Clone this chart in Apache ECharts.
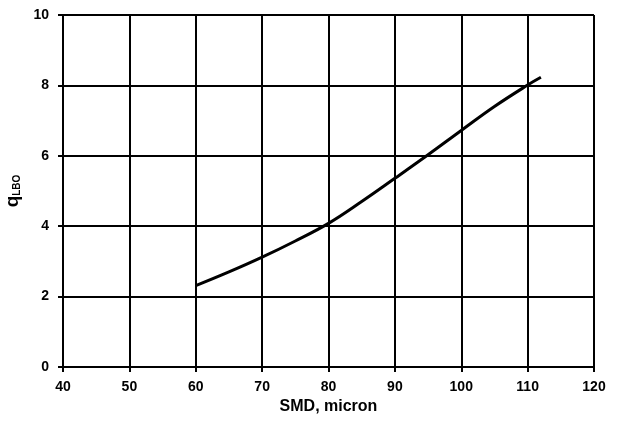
<!DOCTYPE html>
<html>
<head>
<meta charset="utf-8">
<script src="https://cdn.jsdelivr.net/npm/echarts@6/dist/echarts.min.js"></script>
<style>
  html, body { margin: 0; padding: 0; background: #fff; }
  #chart { width: 619px; height: 421px; }
</style>
</head>
<body>
<div id="chart"></div>
<script>
// SMD (micron) and q_LBO
var smd = [60, 65, 70, 75, 80, 85, 90, 95, 100, 105, 110, 112];
var qLbo = [2.31, 2.7, 3.12, 3.58, 4.08, 4.7, 5.36, 6.03, 6.72, 7.4, 8.01, 8.23];

var myChart = echarts.init(document.getElementById('chart'));

var font = 'Liberation Sans, Arial, sans-serif';

var option = {
    animation: false,
    backgroundColor: '#fff',
    grid: { left: 63, right: 25, top: 15, bottom: 54, containLabel: false, outerBoundsMode: 'none' },
    xAxis: {
        type: 'value',
        min: 40, max: 120, interval: 10,
        name: 'SMD, micron',
        nameLocation: 'middle',
        nameGap: 31,
        nameTextStyle: { color: '#000', fontWeight: 'bold', fontSize: 16, fontFamily: font },
        axisLine: { lineStyle: { color: '#000', width: 2 } },
        axisTick: { show: true, length: 5, lineStyle: { color: '#000', width: 2 } },
        axisLabel: { color: '#000', fontWeight: 'bold', fontSize: 14, fontFamily: font, margin: 13 },
        splitLine: { show: true, lineStyle: { color: '#000', width: 2 } }
    },
    yAxis: {
        type: 'value',
        min: 0, max: 10, interval: 2,
        name: '{q|q}{s|LBO}',
        nameLocation: 'middle',
        nameGap: 30,
        nameTextStyle: {
            rich: {
                q: { color: '#000', fontWeight: 'bold', fontSize: 19, fontFamily: font },
                s: { color: '#000', fontWeight: 'bold', fontSize: 10, fontFamily: font, padding: [9, 0, 0, 0] }
            }
        },
        axisLine: { lineStyle: { color: '#000', width: 2 } },
        axisTick: { show: true, length: 5, lineStyle: { color: '#000', width: 2 } },
        axisLabel: { color: '#000', fontWeight: 'bold', fontSize: 14, fontFamily: font, margin: 14 },
        splitLine: { show: true, lineStyle: { color: '#000', width: 2 } }
    },
    series: [{
        type: 'line',
        smooth: 0.4,
        showSymbol: false,
        lineStyle: { color: '#000', width: 3 },
        data: smd.map(function (x, i) { return [x, qLbo[i]]; })
    }]
};

myChart.setOption(option);
</script>
</body>
</html>
